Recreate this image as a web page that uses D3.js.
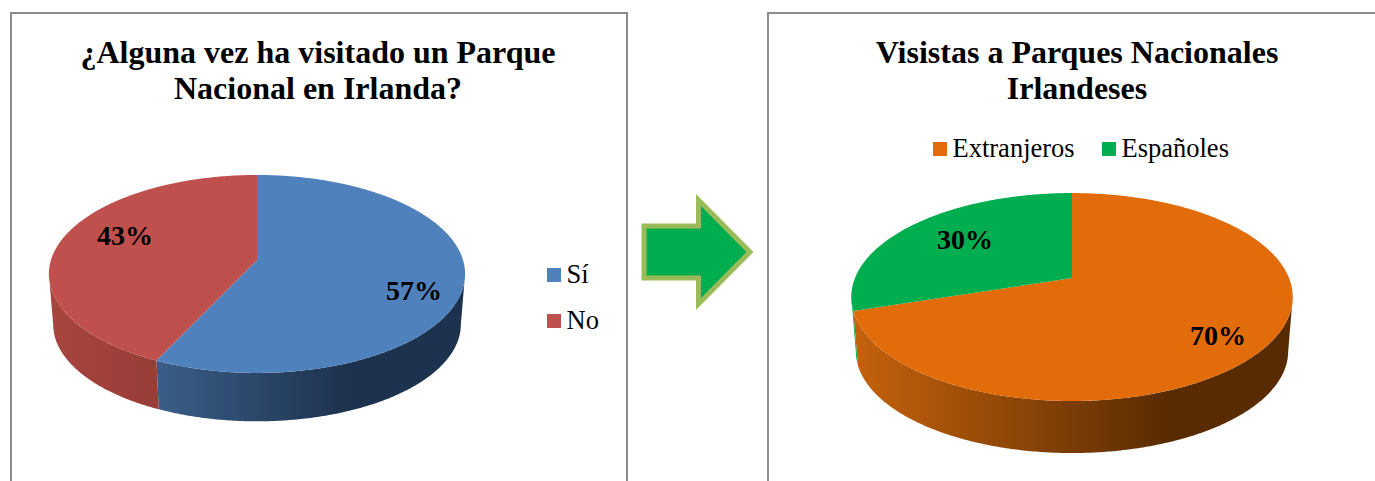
<!DOCTYPE html>
<html>
<head>
<meta charset="utf-8">
<script src="https://cdn.jsdelivr.net/npm/d3@7"></script>
<style>
  html, body { margin: 0; padding: 0; background: #fff; overflow: hidden; }
  text { font-family: "Liberation Serif", "Times New Roman", serif; fill: #000; }
</style>
</head>
<body>
<div id="chart"></div>
<script>
// data
var visitCategories = ["Sí", "No"];
var visitValues = [57, 43];
var visitTitle = ["¿Alguna vez ha visitado un Parque", "Nacional en Irlanda?"];

var originCategories = ["Extranjeros", "Españoles"];
var originValues = [70, 30];
var originTitle = ["Visistas a Parques Nacionales", "Irlandeses"];

var width = 1375, height = 481;
var tau = 2 * Math.PI;

var svg = d3.select("#chart").append("svg")
    .attr("width", width)
    .attr("height", height)
    .style("display", "block");
var defs = svg.append("defs");

// frames, they run off the bottom of the picture
var frameLine = d3.line();
svg.append("path")
    .attr("d", frameLine([[11, height + 5], [11, 13], [627, 13], [627, height + 5]]))
    .attr("fill", "none").attr("stroke", "#8c8c8c").attr("stroke-width", 2);
svg.append("path")
    .attr("d", frameLine([[768, height + 5], [768, 13], [width + 5, 13]]))
    .attr("fill", "none").attr("stroke", "#8c8c8c").attr("stroke-width", 2);

// the pie is tilted with some perspective, so the apex sits above the ellipse centre
function project(p, angle, r) {
    var x = Math.sin(angle) * r, y = -Math.cos(angle) * r;
    var w = 1 - p.k * y;
    return [p.cx + p.rx * x / w, p.cy + p.ry * y / w];
}

function rim(p, a0, a1, scale, dy) {
    var n = Math.max(2, Math.ceil((a1 - a0) / 0.01));
    return d3.range(n + 1).map(function (i) {
        var pt = project(p, a0 + (a1 - a0) * i / n, scale);
        return [pt[0], pt[1] + dy];
    });
}

var line = d3.line();

function drawPie(cfg, categories, values, title) {
    var pie = d3.pie().sort(null).startAngle(0).endAngle(tau);
    var arcs = pie(values);
    var color = d3.scaleOrdinal().domain(categories).range(cfg.colors);
    var g = svg.append("g");

    // only the front of the wall shows, between the two points where the rim is widest
    var wallFrom = Math.acos(-cfg.k), wallTo = tau - wallFrom;

    // side wall gradients
    categories.forEach(function (c, i) {
        var grad = defs.append("linearGradient")
            .attr("id", cfg.id + "-side-" + i)
            .attr("gradientUnits", "userSpaceOnUse")
            .attr("x1", cfg.cx - cfg.rx).attr("x2", cfg.cx + cfg.rx * cfg.gradEnd)
            .attr("y1", 0).attr("y2", 0);
        grad.append("stop").attr("offset", 0).attr("stop-color", cfg.sideFrom[i]);
        grad.append("stop").attr("offset", 1).attr("stop-color", cfg.sideTo[i]);
    });

    // walls first, top faces go over them
    arcs.forEach(function (d, i) {
        var a0 = Math.max(d.startAngle, wallFrom), a1 = Math.min(d.endAngle, wallTo);
        if (a1 <= a0) return;
        var top = rim(cfg, a0, a1, 1, 0);
        var bottom = rim(cfg, a0, a1, cfg.wallScale, cfg.depth).reverse();
        g.append("path")
            .attr("d", line(top.concat(bottom)) + "Z")
            .attr("fill", "url(#" + cfg.id + "-side-" + i + ")");
    });

    arcs.forEach(function (d, i) {
        var pts = [project(cfg, 0, 0)].concat(rim(cfg, d.startAngle, d.endAngle, 1, 0));
        g.append("path")
            .attr("d", line(pts) + "Z")
            .attr("fill", color(categories[i]));
    });

    // title
    title.forEach(function (t, i) {
        svg.append("text")
            .attr("x", cfg.titleX)
            .attr("y", cfg.titleY + i * cfg.titleLead)
            .attr("text-anchor", "middle")
            .attr("font-size", cfg.titleSize)
            .attr("font-weight", "bold")
            .text(t);
    });

    // percent labels
    arcs.forEach(function (d, i) {
        svg.append("text")
            .attr("x", cfg.labelPos[i][0])
            .attr("y", cfg.labelPos[i][1])
            .attr("text-anchor", "middle")
            .attr("font-size", 28)
            .attr("font-weight", "bold")
            .text(d3.format("d")(d.data) + "%");
    });

    // legend
    categories.forEach(function (c, i) {
        var pos = cfg.legendPos[i];
        svg.append("rect")
            .attr("x", pos[0]).attr("y", pos[1] - 15)
            .attr("width", 14).attr("height", 14)
            .attr("fill", color(c));
        svg.append("text")
            .attr("x", pos[0] + 19.5).attr("y", pos[1])
            .attr("font-size", 26.5)
            .text(c);
    });
}

drawPie({
    id: "visit",
    cx: 257, cy: 260, rx: 206, ry: 97, k: 0.141,
    depth: 51, wallScale: 0.98, gradEnd: 0.44,
    colors: ["#4f81bd", "#c0504d"],
    sideFrom: ["#4a76a8", "#a8453f"],
    sideTo: ["#1d324e", "#7a2d2b"],
    titleX: 318, titleY: 63, titleLead: 36, titleSize: 32,
    labelPos: [[414, 300], [125, 245]],
    legendPos: [[547, 283], [547, 329]]
}, visitCategories, visitValues, visitTitle);

drawPie({
    id: "origin",
    cx: 1072, cy: 278, rx: 217, ry: 100.5, k: 0.183,
    depth: 55, wallScale: 0.98, gradEnd: 0.44,
    colors: ["#e26b0a", "#00ae50"],
    sideFrom: ["#c5620c", "#00ae50"],
    sideTo: ["#592b02", "#00813b"],
    titleX: 1077, titleY: 63, titleLead: 36, titleSize: 32,
    labelPos: [[1218, 345], [965, 249]],
    legendPos: [[933, 157], [1102, 157]]
}, originCategories, originValues, originTitle);

// arrow between the two charts
var arrow = { left: 644, neck: 698.5, tip: 750, cy: 252, body: 26, head: 52 };
svg.append("path")
    .attr("d", line([
        [arrow.left, arrow.cy - arrow.body],
        [arrow.neck, arrow.cy - arrow.body],
        [arrow.neck, arrow.cy - arrow.head],
        [arrow.tip, arrow.cy],
        [arrow.neck, arrow.cy + arrow.head],
        [arrow.neck, arrow.cy + arrow.body],
        [arrow.left, arrow.cy + arrow.body]
    ]) + "Z")
    .attr("fill", "#00ae50")
    .attr("stroke", "#9bbb59")
    .attr("stroke-width", 5);
</script>
</body>
</html>
